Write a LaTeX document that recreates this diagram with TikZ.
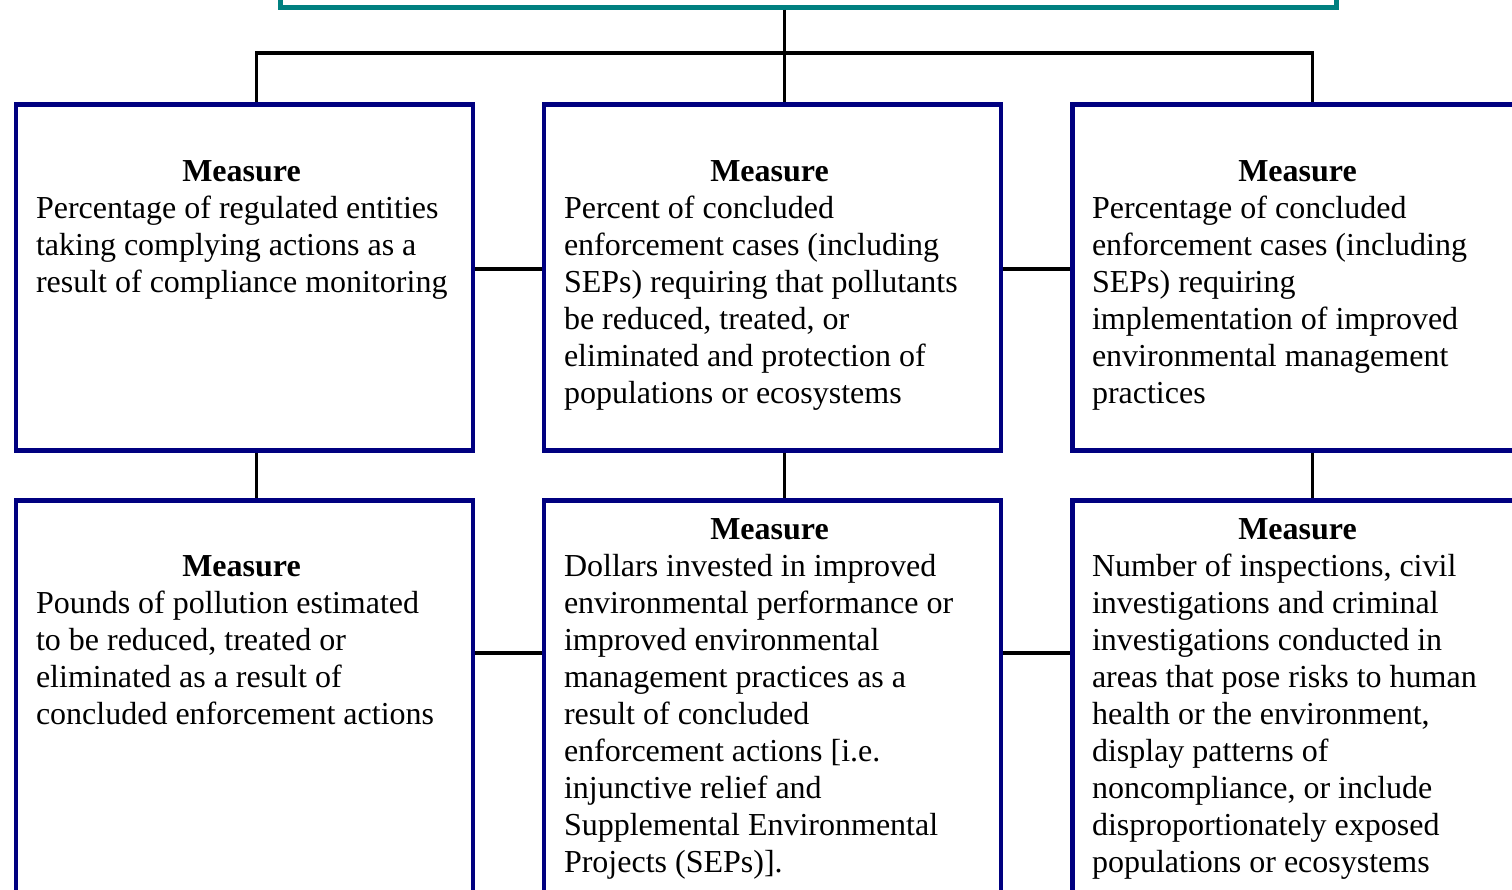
\documentclass[tikz,border=0pt]{standalone}
\usepackage{fontspec}
\setmainfont{Liberation Serif}
\definecolor{navybox}{HTML}{000080}
\definecolor{tealbox}{HTML}{008080}
\begin{document}
\begin{tikzpicture}[x=1pt,y=-1pt,
  measbox/.style={draw=navybox, line width=4.5pt, fill=white, minimum width=457pt, inner sep=0pt, anchor=north west},
  topbox/.style={draw=tealbox, line width=4.5pt, inner sep=0pt, anchor=north west, minimum width=1056pt, minimum height=120pt},
  conn/.style={draw=black, line width=3.5pt},
  measure/.style={inner sep=0pt, outer sep=0pt, anchor=north west, text width=450pt, align=left, font=\fontsize{32}{37}\selectfont}
]
\useasboundingbox (0,0) rectangle (1512,889);
\clip (0,0) rectangle (1512,889);
\fill[white] (0,0) rectangle (1512,889);

\newcommand{\mhead}{\spaceskip=8pt plus 1pt minus 1pt\relax\xspaceskip=8pt\relax\makebox[411pt][c]{\bfseries\strut Measure}}

% top box (only its lower edge is visible)
\node[topbox] (top) at (278,-115) {};

% row 1
\node[measbox, minimum height=346pt] (b1) at (13.5,102) {};
\node[measbox, minimum height=346pt] (b2) at (541.5,102) {};
\node[measbox, minimum height=346pt] (b3) at (1070,102) {};
% row 2
\node[measbox, minimum height=500pt] (b4) at (13.5,498) {};
\node[measbox, minimum height=500pt] (b5) at (541.5,498) {};
\node[measbox, minimum height=500pt] (b6) at (1070,498) {};

% connectors
\coordinate (j1) at ([xshift=12pt]b1.north);
\coordinate (j2) at ([xshift=12pt]b2.north);
\coordinate (j3) at ([xshift=11.5pt]b3.north);
\coordinate (bus) at (0,53);
\coordinate (r1) at (0,269);
\coordinate (r2) at (0,653);

\draw[conn] (j2 |- top.south) -- (j2);
\draw[conn] (j1) -- (j1 |- bus) -- (j3 |- bus) -- (j3);

\draw[conn] (b1.east |- r1) -- (b2.west |- r1);
\draw[conn] (b2.east |- r1) -- (b3.west |- r1);
\draw[conn] (b4.east |- r2) -- (b5.west |- r2);
\draw[conn] (b5.east |- r2) -- (b6.west |- r2);

\draw[conn] (j1 |- b1.south) -- (j1 |- b4.north);
\draw[conn] (j2 |- b2.south) -- (j2 |- b5.north);
\draw[conn] (j3 |- b3.south) -- (j3 |- b6.north);

% texts
\node[measure] (t1) at (36,155.1) {\mhead\\
Percentage of regulated entities\\
taking complying actions as a\\
result of compliance monitoring};

\node[measure] (t2) at (564,155.1) {\mhead\\
Percent of concluded\\
enforcement cases (including\\
SEPs) requiring that pollutants\\
be reduced, treated, or\\
eliminated and protection of\\
populations or ecosystems};

\node[measure] (t3) at (1092,155.1) {\mhead\\
Percentage of concluded\\
enforcement cases (including\\
SEPs) requiring\\
implementation of improved\\
environmental management\\
practices};

\node[measure] (t4) at (36,550.1) {\mhead\\
Pounds of pollution estimated\\
to be reduced, treated or\\
eliminated as a result of\\
concluded enforcement actions};

\node[measure] (t5) at (564,513.1) {\mhead\\
Dollars invested in improved\\
environmental performance or\\
improved environmental\\
management practices as a\\
result of concluded\\
enforcement actions [i.e.\\
injunctive relief and\\
Supplemental Environmental\\
Projects (SEPs)].};

\node[measure] (t6) at (1092,513.1) {\mhead\\
Number of inspections, civil\\
investigations and criminal\\
investigations conducted in\\
areas that pose risks to human\\
health or the environment,\\
display patterns of\\
noncompliance, or include\\
disproportionately exposed\\
populations or ecosystems};
\end{tikzpicture}
\end{document}
